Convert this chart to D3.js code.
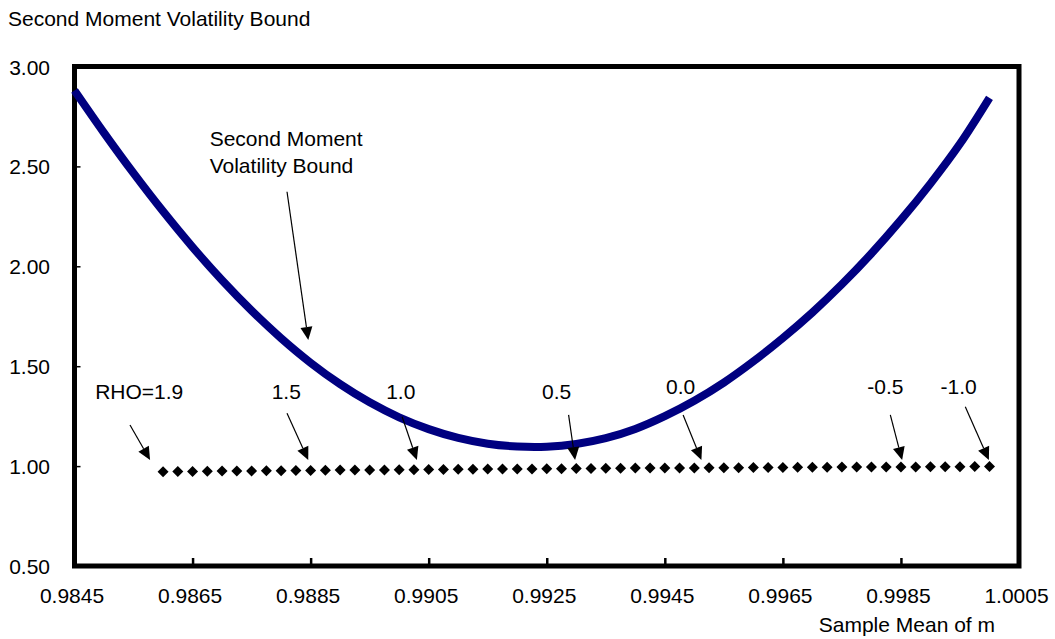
<!DOCTYPE html>
<html><head><meta charset="utf-8">
<script src="https://cdn.jsdelivr.net/npm/d3@7"></script>
<style>html,body{margin:0;padding:0;background:#fff;} svg{display:block;font-family:Arial,"Liberation Sans",sans-serif;}</style>
</head><body><svg id="c" width="1055" height="639"></svg>
<script>
// ---- data ----
const xTicks = [0.9845,0.9865,0.9885,0.9905,0.9925,0.9945,0.9965,0.9985,1.0005];
const yTicks = [0.5,1.0,1.5,2.0,2.5,3.0];

const boundX = [0.9845,0.9850,0.9855,0.9860,0.9865,0.9870,0.9875,0.9880,0.9885,0.9890,0.9895,0.9900,0.9905,0.9910,0.9915,0.9920,
                0.9925,0.9930,0.9935,0.9940,0.9945,0.9950,0.9955,0.9960,0.9965,0.9970,0.9975,0.9980,0.9985,0.9990,0.9995,1.0000];
const boundY = [2.880,2.668,2.466,2.275,2.096,1.930,1.778,1.640,1.517,1.410,1.319,1.244,1.185,1.141,1.112,1.098,
                1.097,1.111,1.140,1.186,1.250,1.327,1.418,1.524,1.641,1.769,1.910,2.064,2.232,2.414,2.613,2.843];

const rhoX = [0.98600,0.98625,0.98650,0.98675,0.98700,0.98725,0.98750,0.98775,0.98800,0.98825,
              0.98850,0.98875,0.98900,0.98925,0.98950,0.98975,0.99000,0.99025,0.99050,0.99075,
              0.99100,0.99125,0.99150,0.99175,0.99200,0.99225,0.99250,0.99275,0.99300,0.99325,
              0.99350,0.99375,0.99400,0.99425,0.99450,0.99475,0.99500,0.99525,0.99550,0.99575,
              0.99600,0.99625,0.99650,0.99675,0.99700,0.99725,0.99750,0.99775,0.99800,0.99825,
              0.99850,0.99875,0.99900,0.99925,0.99950,0.99975,1.00000];
const rhoY = [0.972,0.973,0.973,0.974,0.975,0.975,0.976,0.977,0.977,0.978,
              0.978,0.979,0.980,0.980,0.981,0.981,0.982,0.982,0.983,0.983,
              0.984,0.984,0.985,0.985,0.986,0.986,0.987,0.987,0.988,0.988,
              0.989,0.989,0.990,0.990,0.990,0.991,0.991,0.992,0.992,0.992,
              0.993,0.993,0.993,0.994,0.994,0.994,0.995,0.995,0.995,0.996,
              0.996,0.996,0.997,0.997,0.997,0.998,0.998];

// annotations (data coordinates)
const rhoLabels = ["RHO=1.9","1.5","1.0","0.5","0.0","-0.5","-1.0"];
const rhoLabelX = [0.98485,0.98784,0.98978,0.99242,0.99452,0.99793,0.99917];
const rhoLabelY = [1.336,1.334,1.336,1.336,1.360,1.363,1.363];
const rhoArrowX1 = [0.98544,0.98810,0.99005,0.99287,0.99481,0.99832,0.99959];
const rhoArrowY1 = [1.206,1.264,1.247,1.256,1.256,1.256,1.297];
const rhoArrowX2 = [0.98578,0.98846,0.99030,0.99298,0.99512,0.99852,0.99999];
const rhoArrowY2 = [1.030,1.030,1.030,1.030,1.030,1.030,1.030];

const boundLabelLines = ["Second Moment","Volatility Bound"];
const boundLabelX = 0.98679;
const boundLabelY = [2.602,2.466];
const boundArrow = {x1:0.98810, y1:2.373, x2:0.98846, y2:1.631};

const titleText = "Second Moment Volatility Bound";
const xAxisTitle = "Sample Mean of m";

// ---- drawing ----
const svg = d3.select("#c");
const L = 74.5, R = 1019, T = 66.5, B = 566;
const x = d3.scaleLinear().domain([0.9845,1.0005]).range([L,R]);
const y = d3.scaleLinear().domain([0.5,3.0]).range([B,T]);
const FS = 21;

svg.append("text").attr("x",8).attr("y",26).attr("font-size",FS).attr("fill","#000").text(titleText);

// x axis ticks + labels
const gx = svg.append("g").attr("transform",`translate(0,${B})`)
  .call(d3.axisBottom(x).tickValues(xTicks).tickSize(-8).tickFormat(d3.format(".4f")));
gx.select(".domain").remove();
gx.selectAll(".tick line").attr("stroke","#000").attr("stroke-width",2.5);
gx.selectAll(".tick text").attr("y",37).attr("dy",null).attr("x",-3)
  .attr("font-size",FS).attr("font-family",null).attr("fill","#000");

// y axis ticks + labels
const gy = svg.append("g").attr("transform",`translate(${L},0)`)
  .call(d3.axisLeft(y).tickValues(yTicks).tickSize(-6).tickFormat(d3.format(".2f")));
gy.select(".domain").remove();
gy.selectAll(".tick line").attr("stroke","#000").attr("stroke-width",1.5);
gy.selectAll(".tick text").attr("x",-24.5).attr("dy","0.36em")
  .attr("font-size",FS).attr("font-family",null).attr("fill","#000");

// frame
svg.append("rect").attr("x",L).attr("y",T).attr("width",R-L).attr("height",B-T)
  .attr("fill","none").attr("stroke","#000").attr("stroke-width",5);

// x axis title
svg.append("text").attr("x",995).attr("y",631.5).attr("text-anchor","end")
  .attr("font-size",FS).attr("fill","#000").text(xAxisTitle);

// bound curve
const boundData = boundX.map((d,i)=>({x:d,y:boundY[i]}));
svg.append("path").datum(boundData)
  .attr("d", d3.line().x(d=>x(d.x)).y(d=>y(d.y)).curve(d3.curveCatmullRom.alpha(0.5)))
  .attr("fill","none").attr("stroke","#000080").attr("stroke-width",8).attr("stroke-linecap","butt");

// diamonds
const rhoData = rhoX.map((d,i)=>({x:d,y:rhoY[i]}));
const h = 5.5;
svg.append("g").selectAll("path").data(rhoData).join("path")
  .attr("transform",d=>`translate(${x(d.x)},${y(d.y)})`)
  .attr("d",`M0,${-h}L${h},0L0,${h}L${-h},0Z`).attr("fill","#000");

// arrows
function arrow(x1,y1,x2,y2){
  const px1=x(x1), py1=y(y1), px2=x(x2), py2=y(y2);
  const dx=px2-px1, dy=py2-py1, len=Math.hypot(dx,dy);
  const ux=dx/len, uy=dy/len, nx=-uy, ny=ux;
  const HL=13, HW=6;
  const bx=px2-ux*HL, by=py2-uy*HL;
  svg.append("line").attr("x1",px1).attr("y1",py1).attr("x2",bx).attr("y2",by)
    .attr("stroke","#000").attr("stroke-width",1.2);
  svg.append("path").attr("d",`M${px2},${py2}L${bx+nx*HW},${by+ny*HW}L${bx-nx*HW},${by-ny*HW}Z`).attr("fill","#000");
}
rhoLabels.forEach((t,i)=>{
  svg.append("text").attr("x",x(rhoLabelX[i])).attr("y",y(rhoLabelY[i]))
    .attr("font-size",FS).attr("fill","#000").text(t);
  arrow(rhoArrowX1[i],rhoArrowY1[i],rhoArrowX2[i],rhoArrowY2[i]);
});
boundLabelLines.forEach((t,i)=>{
  svg.append("text").attr("x",x(boundLabelX)).attr("y",y(boundLabelY[i]))
    .attr("font-size",FS).attr("fill","#000").text(t);
});
arrow(boundArrow.x1,boundArrow.y1,boundArrow.x2,boundArrow.y2);
</script></body></html>
